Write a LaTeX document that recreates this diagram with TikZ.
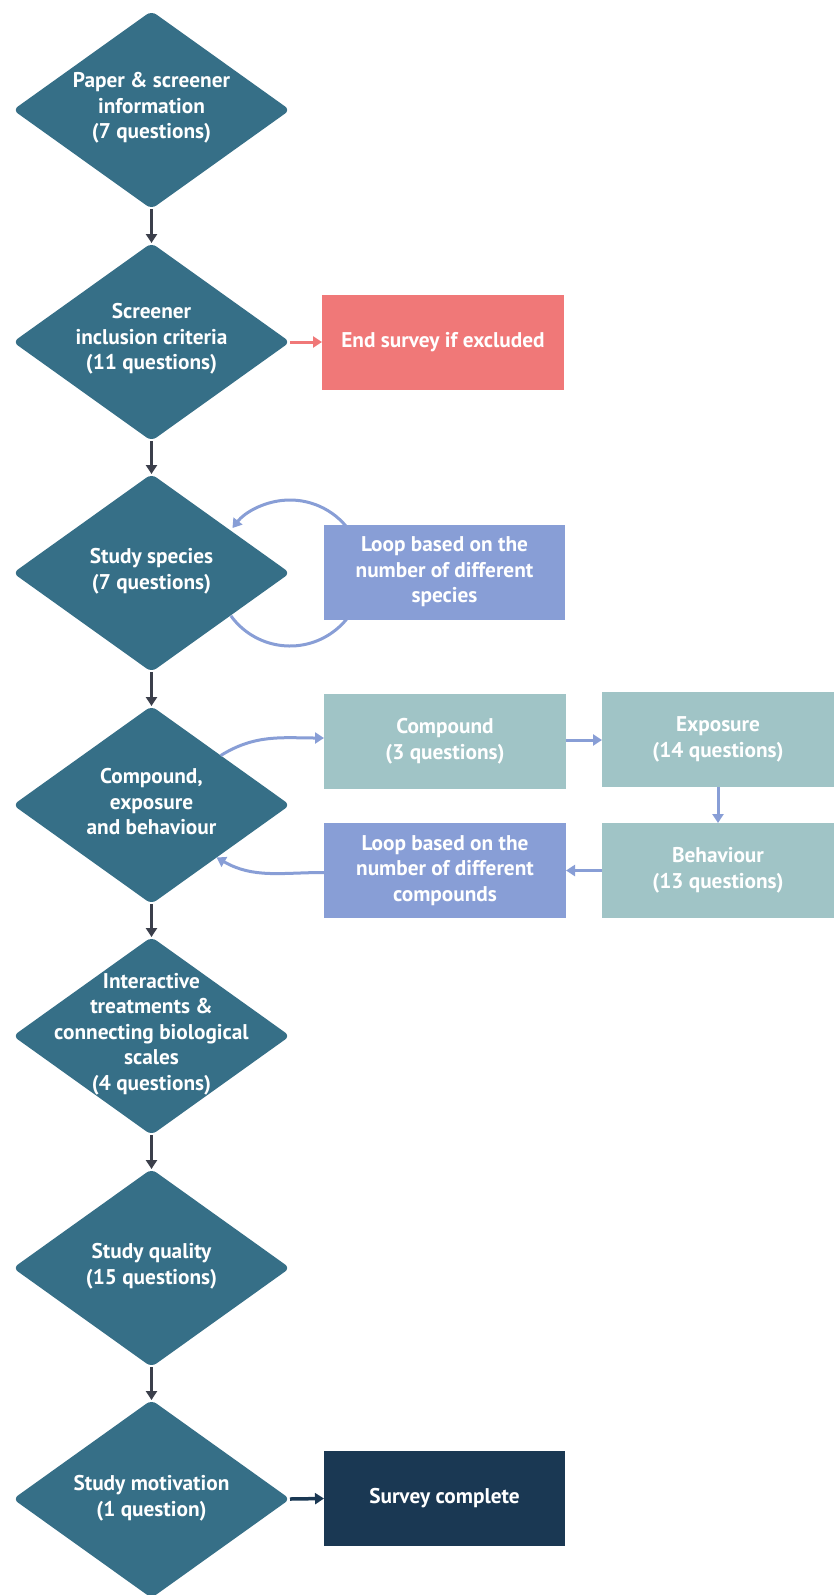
\documentclass[tikz,border=0pt]{standalone}
\usepackage{fontspec}
\setmainfont{PT Sans}
\usetikzlibrary{shapes.geometric,arrows.meta,backgrounds,calc}
\definecolor{dia}{RGB}{54,111,135}
\definecolor{darkarrow}{RGB}{59,63,75}
\definecolor{redbox}{RGB}{240,120,120}
\definecolor{loopbox}{RGB}{136,158,214}
\definecolor{tealbox}{RGB}{160,196,198}
\definecolor{navybox}{RGB}{26,56,83}
\begin{document}
\begin{tikzpicture}[x=1pt,y=1pt,
  dnode/.style={shape=diamond, fill=dia, minimum width=277pt, minimum height=198pt, inner sep=0pt, outer sep=0pt, rounded corners=6pt},
  txt/.style={text=white, font=\fontsize{21.3}{25.5}\selectfont\bfseries, align=center, inner sep=0pt},
  box/.style={txt, minimum height=95pt, outer sep=0pt},
  tip/.style={-{Triangle[width=11pt,length=9pt]}},
  darr/.style={tip, line width=3.5pt, draw=darkarrow},
  larr/.style={tip, line width=3pt, draw=loopbox},
]
\useasboundingbox (0,0) rectangle (834,-1595);

% diamonds
\node[dnode] (d1) at (151.5,-110) {};
\node[dnode] (d2) at (151.5,-342) {};
\node[dnode] (d3) at (151.5,-573) {};
\node[dnode] (d4) at (151.5,-805) {};
\node[dnode] (d5) at (151.5,-1036) {};
\node[dnode] (d6) at (151.5,-1268) {};
\node[dnode] (d7) at (151.5,-1499) {};

\node[txt] (t1) at ([yshift=2pt]d1) {Paper \& screener\\information\\(7 questions)};
\node[txt] (t2) at ([yshift=3pt]d2) {Screener\\inclusion criteria\\(11 questions)};
\node[txt] (t3) at ([yshift=2pt]d3) {Study species\\(7 questions)};
\node[txt] (t4) at ([yshift=3pt]d4) {Compound,\\exposure\\and behaviour};
\node[txt] (t5) at ([yshift=2pt]d5) {Interactive\\treatments \&\\connecting biological\\scales\\(4 questions)};
\node[txt] (t6) at ([yshift=2pt]d6) {Study quality\\(15 questions)};
\node[txt] (t7) at ([yshift=1pt]d7) {Study motivation\\(1 question)};

% boxes
\node[box, fill=redbox, minimum width=242pt] (endx) at (443,-342) {\raisebox{3pt}{End survey if excluded}};
\node[box, fill=loopbox, minimum width=241pt] (loops) at (444.5,-572) {Loop based on the\\number of different\\species};
\node[box, fill=tealbox, minimum width=242pt] (comp) at (445,-741) {Compound\\(3 questions)};
\node[box, fill=tealbox, minimum width=232pt] (expo) at (718,-739.5) {Exposure\\(14 questions)};
\node[box, fill=tealbox, minimum width=232pt] (beh) at (718,-870.5) {Behaviour\\(13 questions)};
\node[box, fill=loopbox, minimum width=242pt] (loopc) at (445,-870.5) {Loop based on the\\number of different\\compounds};
\node[box, fill=navybox, minimum width=241pt] (done) at (444.5,-1498.5) {\raisebox{2pt}{Survey complete}};

% background and species loop (behind)
\begin{pgfonlayer}{background}
\fill[white] (0,0) rectangle (834,-1595);
\draw[larr] ([shift={(216:73pt)}]d3.east) arc[start angle=216, end angle=502, radius=73pt];
\end{pgfonlayer}

% main flow
\draw[darr] (d1.south) -- (d2.north);
\draw[darr] (d2.south) -- (d3.north);
\draw[darr] (d3.south) -- (d4.north);
\draw[darr] (d4.south) -- (d5.north);
\draw[darr] (d5.south) -- (d6.north);
\draw[darr] (d6.south) -- (d7.north);
\draw[tip, line width=3pt, draw=redbox] (d2.east) -- (endx.west);
\draw[darr, draw=navybox] (d7.east) -- (done.west);

% compound loop
\coordinate (d4ur) at ($(d4.north)!0.5!(d4.east)$);
\coordinate (d4lr) at ($(d4.south)!0.47!(d4.east)$);
\draw[larr] (d4ur) to[out=32, in=180] ([yshift=3pt]comp.west);
\draw[larr] ([yshift=1pt]comp.east) -- ([yshift=1pt]comp.east -| expo.west);
\draw[larr] (expo.south) -- (beh.north);
\draw[larr] (beh.west) -- (loopc.east);
\draw[larr] ([yshift=-2pt]loopc.west) to[out=180, in=-30] (d4lr);
\end{tikzpicture}
\end{document}
